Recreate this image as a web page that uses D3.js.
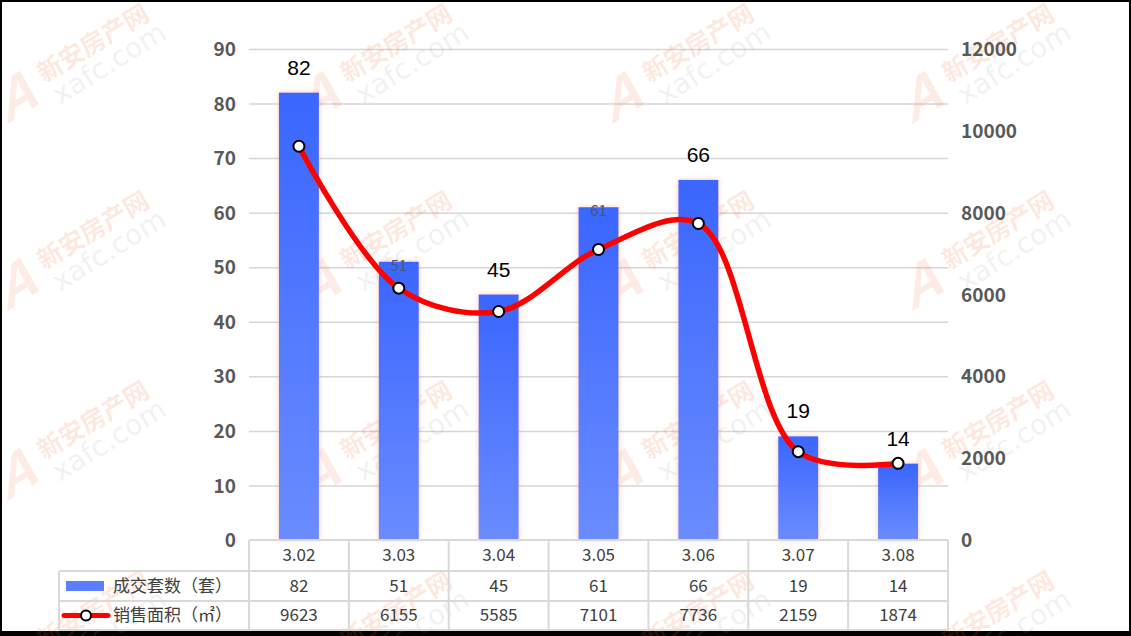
<!DOCTYPE html>
<html>
<head>
<meta charset="utf-8">
<script src="https://cdn.jsdelivr.net/npm/d3@7"></script>
<style>
  html, body { margin: 0; padding: 0; background: #fff; }
  svg { display: block; }
</style>
</head>
<body>
<svg id="chart" width="1131" height="636"></svg>
<script>
// ---- data ----
const categories = ["3.02", "3.03", "3.04", "3.05", "3.06", "3.07", "3.08"];
const unitsSold = [82, 51, 45, 61, 66, 19, 14];          // 成交套数（套）
const areaSold = [9623, 6155, 5585, 7101, 7736, 2159, 1874]; // 销售面积（㎡）
const leftTicks = [0, 10, 20, 30, 40, 50, 60, 70, 80, 90];
const rightTicks = [0, 2000, 4000, 6000, 8000, 10000, 12000];
const seriesNames = ["成交套数（套）", "销售面积（㎡）"];
const smallLabelCats = ["3.03", "3.05"];

// ---- layout ----
const W = 1131, H = 636;
const plot = { left: 249, right: 948, top: 49, bottom: 540 };
const tableRows = [540, 571, 601, 630];
const legendLeft = 59;

const svg = d3.select("#chart");
const cjk = "'Noto Sans CJK SC', 'Noto Sans', sans-serif";

// frame
svg.append("rect").attr("x", 0).attr("y", 0).attr("width", W).attr("height", H).attr("fill", "#000");
svg.append("rect").attr("x", 2).attr("y", 2).attr("width", W - 4).attr("height", H - 7).attr("fill", "#fff");

const x = d3.scaleBand().domain(categories).range([plot.left, plot.right]).paddingInner(0.6).paddingOuter(0.3);
const step = x.step();
const cx = c => x(c) + x.bandwidth() / 2;
const yL = d3.scaleLinear().domain([0, 90]).range([plot.bottom, plot.top]);
const yR = d3.scaleLinear().domain([0, 12000]).range([plot.bottom, plot.top]);

// defs
const defs = svg.append("defs");
const grad = defs.append("linearGradient").attr("id", "barGrad").attr("x1", 0).attr("y1", 0).attr("x2", 0).attr("y2", 1);
grad.append("stop").attr("offset", "0%").attr("stop-color", "#3a66ff");
grad.append("stop").attr("offset", "100%").attr("stop-color", "#6a8cff");
const glow = defs.append("filter").attr("id", "glow").attr("x", "-40%").attr("y", "-10%").attr("width", "180%").attr("height", "120%");
glow.append("feDropShadow").attr("dx", 0).attr("dy", 0).attr("stdDeviation", 2.5)
  .attr("flood-color", "#f4a070").attr("flood-opacity", 0.6);

// gridlines (left axis)
const grid = svg.append("g").attr("transform", `translate(${plot.left},0)`)
  .call(d3.axisLeft(yL).tickValues(leftTicks.filter(t => t > 0)).tickSize(-(plot.right - plot.left)).tickFormat(""));
grid.select(".domain").remove();
grid.selectAll("line").attr("stroke", "#d6d6d6").attr("stroke-width", 1.5);

// watermarks (behind marks)
const wmX = [0, 303, 605, 905], wmY = [3, 190, 380, 570];
const wm = svg.append("g").attr("pointer-events", "none");
wmY.forEach(oy => wmX.forEach(ox => {
  const g = wm.append("g").attr("transform", `translate(${ox},${oy})`);
  g.append("text").attr("transform", "translate(6,122) rotate(-32) skewX(-22)")
    .attr("font-family", "'Liberation Sans', sans-serif").attr("font-weight", "bold").attr("font-size", 56)
    .attr("fill", "#f26b3a").attr("opacity", 0.12).text("A");
  g.append("text").attr("transform", "translate(44,80) rotate(-31)")
    .attr("font-family", cjk).attr("font-weight", "bold").attr("font-size", 25)
    .attr("fill", "#f26b3a").attr("opacity", 0.15).text("新安房产网");
  g.append("text").attr("transform", "translate(60,102) rotate(-32)")
    .attr("font-family", "'DejaVu Sans', sans-serif").attr("font-size", 28)
    .attr("fill", "#999").attr("opacity", 0.13).text("xafc.com");
}));

// left axis labels
const axL = svg.append("g").attr("transform", `translate(${plot.left - 13},0)`)
  .call(d3.axisLeft(yL).tickValues(leftTicks).tickSize(0).tickPadding(0));
axL.select(".domain").remove();
axL.selectAll("text").attr("font-family", cjk).attr("font-size", 19).attr("font-weight", "bold")
  .attr("fill", "#595959").attr("dy", "0.35em");

// right axis labels
const axR = svg.append("g").attr("transform", `translate(${plot.right + 13},0)`)
  .call(d3.axisRight(yR).tickValues(rightTicks).tickSize(0).tickPadding(0).tickFormat(d3.format("d")));
axR.select(".domain").remove();
axR.selectAll("text").attr("font-family", cjk).attr("font-size", 19).attr("font-weight", "bold")
  .attr("fill", "#595959").attr("dy", "0.35em");

// bars
svg.append("g").selectAll("rect").data(categories).join("rect")
  .attr("x", c => x(c))
  .attr("y", (c, i) => yL(unitsSold[i]))
  .attr("width", x.bandwidth())
  .attr("height", (c, i) => yL(0) - yL(unitsSold[i]))
  .attr("fill", "url(#barGrad)")
  .attr("filter", "url(#glow)");

// bar labels
svg.append("g").selectAll("text").data(categories).join("text")
  .attr("x", c => cx(c))
  .attr("y", (c, i) => smallLabelCats.includes(c) ? yL(unitsSold[i]) + 9 : yL(unitsSold[i]) - 18)
  .attr("text-anchor", "middle")
  .attr("font-family", (c) => smallLabelCats.includes(c) ? cjk : "'Liberation Sans', Arial, sans-serif")
  .attr("font-size", c => smallLabelCats.includes(c) ? 15 : 21)
  .attr("fill", c => smallLabelCats.includes(c) ? "#4a5670" : "#000")
  .text((c, i) => unitsSold[i]);

// line
const pts = categories.map((c, i) => [cx(c), yR(areaSold[i])]);
svg.append("path").datum(pts)
  .attr("d", d3.line().curve(d3.curveCatmullRom.alpha(0.5)))
  .attr("fill", "none").attr("stroke", "#ff0000").attr("stroke-width", 5.5)
  .attr("stroke-linecap", "round").attr("stroke-linejoin", "round");
svg.append("g").selectAll("circle").data(pts).join("circle")
  .attr("cx", d => d[0]).attr("cy", d => d[1]).attr("r", 5.5)
  .attr("fill", "#fff").attr("stroke", "#000").attr("stroke-width", 2);

// ---- data table ----
const tbl = svg.append("g");
const lineCol = "#d9d9d9";
tbl.append("line").attr("x1", plot.left).attr("x2", plot.right).attr("y1", tableRows[0]).attr("y2", tableRows[0])
  .attr("stroke", lineCol).attr("stroke-width", 2);
tableRows.slice(1).forEach(yy => {
  tbl.append("line").attr("x1", legendLeft).attr("x2", plot.right).attr("y1", yy).attr("y2", yy)
    .attr("stroke", lineCol).attr("stroke-width", 2);
});
tbl.append("line").attr("x1", legendLeft).attr("x2", legendLeft).attr("y1", tableRows[1]).attr("y2", tableRows[3])
  .attr("stroke", lineCol).attr("stroke-width", 2);
const vx = categories.map(c => x(c) - (step - x.bandwidth()) / 2).concat([plot.right]);
vx.forEach(xx => {
  tbl.append("line").attr("x1", xx).attr("x2", xx).attr("y1", tableRows[0]).attr("y2", tableRows[3])
    .attr("stroke", lineCol).attr("stroke-width", 2);
});
const rowMid = i => (tableRows[i] + tableRows[i + 1]) / 2;
const cellText = (sel) => sel.attr("text-anchor", "middle").attr("dy", "0.35em")
  .attr("font-family", cjk).attr("font-size", 17).attr("fill", "#404040");
tbl.append("g").selectAll("text").data(categories).join("text")
  .attr("x", c => cx(c)).attr("y", rowMid(0)).call(cellText).text(c => c);
tbl.append("g").selectAll("text").data(categories).join("text")
  .attr("x", c => cx(c)).attr("y", rowMid(1)).call(cellText).text((c, i) => unitsSold[i]);
tbl.append("g").selectAll("text").data(categories).join("text")
  .attr("x", c => cx(c)).attr("y", rowMid(2)).call(cellText).text((c, i) => areaSold[i]);

// legend keys
tbl.append("rect").attr("x", 66).attr("y", rowMid(1) - 5).attr("width", 38).attr("height", 10).attr("fill", "#5a80ff");
tbl.append("line").attr("x1", 64).attr("x2", 108).attr("y1", rowMid(2)).attr("y2", rowMid(2))
  .attr("stroke", "#ff0000").attr("stroke-width", 5).attr("stroke-linecap", "round");
tbl.append("circle").attr("cx", 86).attr("cy", rowMid(2)).attr("r", 5)
  .attr("fill", "#fff").attr("stroke", "#000").attr("stroke-width", 2);
seriesNames.forEach((n, i) => {
  tbl.append("text").attr("x", 113).attr("y", rowMid(i + 1)).attr("dy", "0.35em")
    .attr("font-family", cjk).attr("font-size", 17).attr("fill", "#404040").text(n);
});
</script>
</body>
</html>
